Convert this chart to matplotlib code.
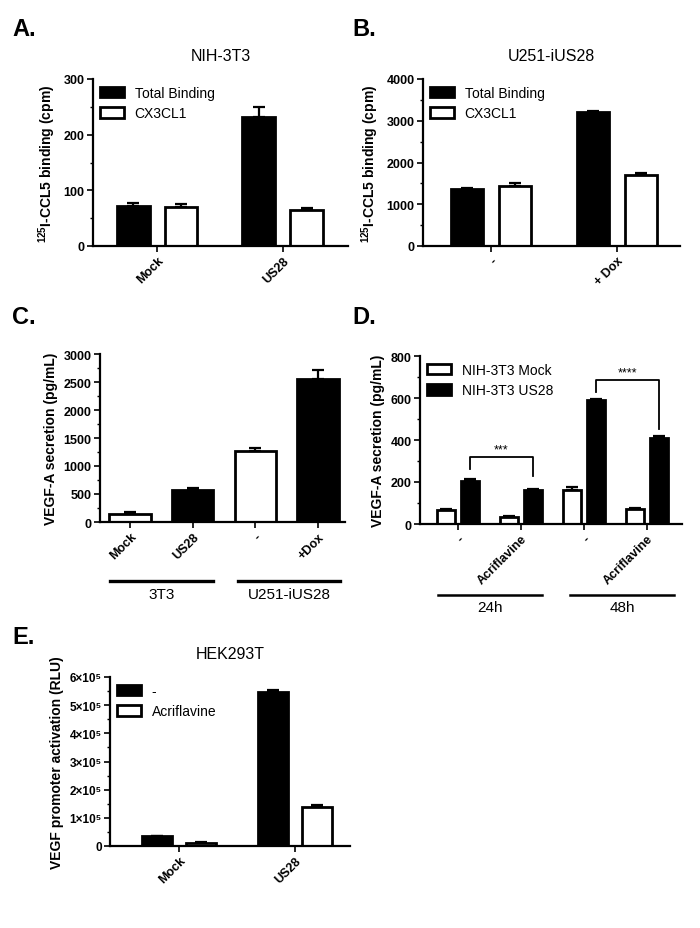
import matplotlib
matplotlib.use('Agg')
import matplotlib.pyplot as plt
import numpy as np
from matplotlib.ticker import MultipleLocator, FuncFormatter
from matplotlib.patches import Patch

plt.rcParams['font.family'] = ['Liberation Sans', 'DejaVu Sans']
plt.rcParams['mathtext.fontset'] = 'custom'
plt.rcParams['mathtext.rm'] = 'Liberation Sans'
plt.rcParams['mathtext.bf'] = 'Liberation Sans:bold'

# A. NIH-3T3 binding
a_cats = ['Mock', 'US28']
a_total = [72, 232]
a_total_err = [5, 17]
a_cx3 = [70, 65]
a_cx3_err = [5, 4]

# B. U251-iUS28 binding
b_cats = ['-', '+ Dox']
b_total = [1360, 3220]
b_total_err = [30, 20]
b_cx3 = [1440, 1710]
b_cx3_err = [80, 30]

# C. VEGF-A secretion
c_cats = ['Mock', 'US28', '-', '+Dox']
c_vals = [150, 580, 1270, 2550]
c_err = [20, 20, 60, 160]
c_black = [False, True, False, True]

# D. VEGF-A secretion, time course
d_cats = ['-', 'Acriflavine', '-', 'Acriflavine']
d_mock = [65, 35, 160, 72]
d_mock_err = [5, 5, 15, 6]
d_us28 = [205, 160, 590, 410]
d_us28_err = [8, 8, 5, 8]

# E. HEK293T promoter
e_cats = ['Mock', 'US28']
e_ctrl = [35000, 548000]
e_ctrl_err = [2000, 5000]
e_acri = [12000, 137000]
e_acri_err = [2000, 7000]

W, H = 700, 929
fig = plt.figure(figsize=(7, 9.29), dpi=100)


def px_axes(left, right, top, bottom):
    return fig.add_axes([left / W, 1 - bottom / H, (right - left) / W, (bottom - top) / H])


def style(ax, ymax, major, minor, fs=9):
    for s in ['top', 'right']:
        ax.spines[s].set_visible(False)
    for s in ['left', 'bottom']:
        ax.spines[s].set_linewidth(1.6)
    ax.set_ylim(0, ymax)
    ax.yaxis.set_major_locator(MultipleLocator(major))
    ax.yaxis.set_minor_locator(MultipleLocator(minor))
    ax.tick_params(axis='both', which='major', length=4, width=1.2, labelsize=fs, pad=2)
    ax.tick_params(axis='y', which='minor', length=2.5, width=1.0)
    for lab in ax.get_yticklabels():
        lab.set_fontweight('bold')


def bars(ax, x, vals, errs, black, width):
    ax.bar(x, vals, width, color='black' if black else 'white',
           edgecolor='black', linewidth=2.0, zorder=2)
    ax.errorbar(x, vals, yerr=[np.zeros(len(vals)), errs], fmt='none',
                ecolor='black', elinewidth=1.6, capsize=4, capthick=1.6, zorder=1)


def xlabels(ax, cats, fs=9):
    ax.set_xticks(np.arange(len(cats)))
    ax.set_xticklabels(cats, rotation=45, ha='right', rotation_mode='anchor',
                       fontsize=fs, fontweight='bold')


def legend(ax, labels, colors, **kw):
    handles = [Patch(facecolor=c, edgecolor='black', linewidth=2.0, label=l)
               for l, c in zip(labels, colors)]
    ax.legend(handles=handles, loc='upper left', frameon=False, fontsize=10,
              handlelength=1.7, handleheight=0.8, handletextpad=0.8,
              labelspacing=0.45, borderaxespad=0.1, **kw)


YL = dict(fontsize=10, fontweight='bold', labelpad=4)
TITLE = dict(fontsize=11.5, pad=14)

# ---- A ----
ax = px_axes(93, 348, 80, 247)
x = np.arange(len(a_cats))
bars(ax, x - 0.19, a_total, a_total_err, True, 0.26)
bars(ax, x + 0.19, a_cx3, a_cx3_err, False, 0.26)
ax.set_xlim(-0.51, 1.52)
style(ax, 300, 100, 50)
xlabels(ax, a_cats)
ax.set_ylabel(r'$\mathbf{^{125}}$I-CCL5 binding (cpm)', **YL)
ax.set_title('NIH-3T3', **TITLE)
legend(ax, ['Total Binding', 'CX3CL1'], ['black', 'white'])

# ---- B ----
ax = px_axes(423, 680, 80, 247)
x = np.arange(len(b_cats))
bars(ax, x - 0.19, b_total, b_total_err, True, 0.26)
bars(ax, x + 0.19, b_cx3, b_cx3_err, False, 0.26)
ax.set_xlim(-0.54, 1.5)
style(ax, 4000, 1000, 500)
xlabels(ax, b_cats)
ax.set_ylabel(r'$\mathbf{^{125}}$I-CCL5 binding (cpm)', **YL)
ax.set_title('U251-iUS28', **TITLE)
legend(ax, ['Total Binding', 'CX3CL1'], ['black', 'white'])

# ---- C ----
ax = px_axes(100, 345, 355, 523)
x = np.arange(len(c_cats))
for xi, v, e, b in zip(x, c_vals, c_err, c_black):
    bars(ax, [xi], [v], [e], b, 0.66)
ax.set_xlim(-0.48, 3.43)
style(ax, 3000, 500, 250)
xlabels(ax, c_cats)
ax.set_ylabel('VEGF-A secretion (pg/mL)', **YL)
tr = ax.get_xaxis_transform()
for (x0, x1), lab in zip([(-0.32, 1.32), (1.72, 3.35)], ['3T3', 'U251-iUS28']):
    ax.plot([x0, x1], [-0.35, -0.35], color='black', lw=2.4, transform=tr, clip_on=False)
    ax.text((x0 + x1) / 2, -0.385, lab, ha='center', va='top', fontsize=11, transform=tr)

# ---- D ----
ax = px_axes(420, 682, 357, 525)
x = np.arange(len(d_cats))
bars(ax, x - 0.19, d_mock, d_mock_err, False, 0.29)
bars(ax, x + 0.19, d_us28, d_us28_err, True, 0.29)
ax.set_xlim(-0.6, 3.56)
style(ax, 800, 200, 100)
xlabels(ax, d_cats)
ax.set_ylabel('VEGF-A secretion (pg/mL)', **YL)
legend(ax, ['NIH-3T3 Mock', 'NIH-3T3 US28'], ['white', 'black'])
for (i0, i1, top, l0, l1, star) in [(0, 1, 319, 262, 229, '***'), (2, 3, 686, 629, 452, '****')]:
    xa, xb = x[i0] + 0.19, x[i1] + 0.19
    ax.plot([xa, xa, xb, xb], [l0, top, top, l1], color='black', lw=1.3, clip_on=False)
    ax.text((xa + xb) / 2, top + 6, star, ha='center', va='bottom', fontsize=9)
tr = ax.get_xaxis_transform()
for (x0, x1), lab in zip([(-0.32, 1.33), (1.78, 3.44)], ['24h', '48h']):
    ax.plot([x0, x1], [-0.42, -0.42], color='black', lw=1.8, transform=tr, clip_on=False)
    ax.text((x0 + x1) / 2, -0.45, lab, ha='center', va='top', fontsize=11, transform=tr)

# ---- E ----
ax = px_axes(110, 350, 678, 847)
x = np.arange(len(e_cats))
bars(ax, x - 0.19, e_ctrl, e_ctrl_err, True, 0.26)
bars(ax, x + 0.19, e_acri, e_acri_err, False, 0.26)
ax.set_xlim(-0.6, 1.48)
style(ax, 600000, 100000, 50000, fs=8.5)
ax.yaxis.set_major_formatter(FuncFormatter(
    lambda v, p: '0' if v == 0 else f'{int(round(v / 1e5))}×10⁵'))
for lab in ax.get_yticklabels():
    lab.set_fontweight('bold')
xlabels(ax, e_cats)
ax.set_ylabel('VEGF promoter activation (RLU)', **YL)
ax.set_title('HEK293T', **TITLE)
legend(ax, ['-', 'Acriflavine'], ['black', 'white'])

# panel letters
for lab, (px, py) in zip('ABCDE', [(12, 30), (352, 30), (12, 318), (352, 318), (12, 637)]):
    fig.text(px / W, 1 - py / H, lab + '.', fontsize=17, fontweight='bold', va='center')

fig.savefig('out.png', dpi=100)
